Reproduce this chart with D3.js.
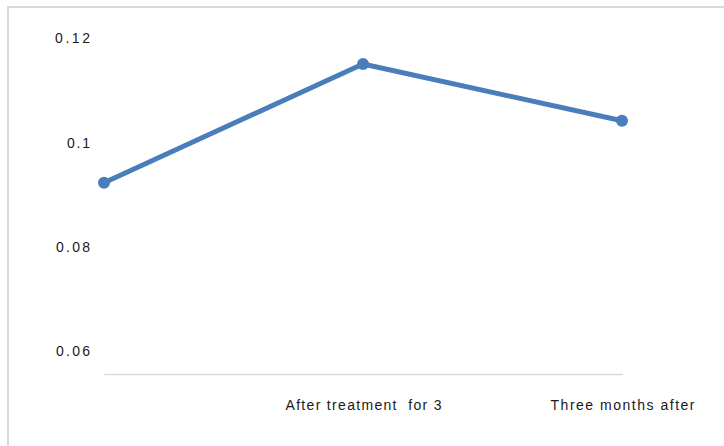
<!DOCTYPE html>
<html>
<head>
<meta charset="utf-8">
<script src="https://cdn.jsdelivr.net/npm/d3@7/dist/d3.min.js"></script>
<style>
  html, body { margin: 0; padding: 0; background: #fff; }
  svg { display: block; }
  text { font-family: "Liberation Sans", Arial, sans-serif; fill: #1a1a1a; }
</style>
</head>
<body>
<svg id="chart" width="724" height="446"></svg>
<script>
// Measurements per period
const categories = ["", "After treatment  for 3", "Three months after"];
const values = [0.0923, 0.1151, 0.1042];
const yTicks = [0.06, 0.08, 0.1, 0.12];
const yTickLabels = ["0.06", "0.08", "0.1", "0.12"];

// Spread-out label widths (px) for the loosely spaced labels
const xLabelWidths = [0, 156, 144];
const yLabelWidths = [34, 34, 23, 35];

const svg = d3.select("#chart");

// Outer chart frame
svg.append("rect")
  .attr("x", 8).attr("y", 7)
  .attr("width", 740).attr("height", 460)
  .attr("fill", "none")
  .attr("stroke", "#d9d9d9")
  .attr("stroke-width", 2);

const x = d3.scalePoint().domain(categories).range([104, 622]);
const y = d3.scaleLinear().domain([0.06, 0.12]).range([351, 38.5]);

// Value axis labels (no axis line, no ticks)
const yAxis = d3.axisLeft(y)
  .tickValues(yTicks)
  .tickFormat((d, i) => yTickLabels[i])
  .tickSize(0)
  .tickPadding(0);
const yg = svg.append("g").attr("transform", "translate(90,0)").call(yAxis);
yg.select(".domain").remove();
yg.selectAll("text")
  .style("font-family", '"Liberation Sans", Arial, sans-serif')
  .style("font-size", "14px")
  .attr("fill", "#1a1a1a")
  .attr("textLength", (d, i) => yLabelWidths[i])
  .attr("lengthAdjust", "spacing");

// Category axis
const xAxis = d3.axisBottom(x).tickSize(0).tickPadding(0);
const xg = svg.append("g").attr("transform", "translate(0,374)").call(xAxis);
xg.select(".domain")
  .attr("stroke", "#d9d9d9")
  .attr("stroke-width", 1.5);
xg.selectAll("text")
  .attr("y", 36)
  .attr("dy", "0")
  .style("font-family", '"Liberation Sans", Arial, sans-serif')
  .style("font-size", "14px")
  .style("white-space", "pre")
  .attr("fill", "#1a1a1a")
  .attr("textLength", (d, i) => xLabelWidths[i] || null)
  .attr("lengthAdjust", "spacing");

// Series line
const line = d3.line()
  .x((d, i) => x(categories[i]))
  .y(d => y(d));

svg.append("path")
  .datum(values)
  .attr("d", line)
  .attr("fill", "none")
  .attr("stroke", "#4a7ebb")
  .attr("stroke-width", 5)
  .attr("stroke-linejoin", "round")
  .attr("stroke-linecap", "round");

svg.selectAll("circle.pt")
  .data(values)
  .join("circle")
  .attr("class", "pt")
  .attr("cx", (d, i) => x(categories[i]))
  .attr("cy", d => y(d))
  .attr("r", 6)
  .attr("fill", "#4a7ebb");
</script>
</body>
</html>
